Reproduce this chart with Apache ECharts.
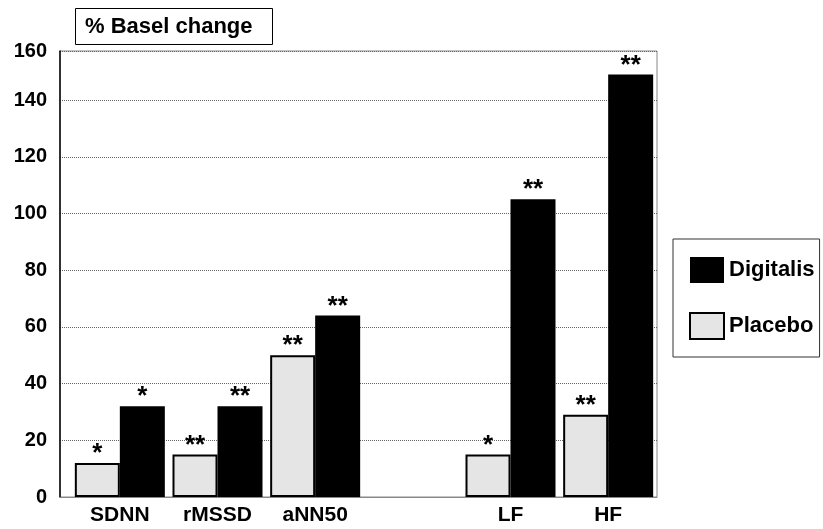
<!DOCTYPE html>
<html><head><meta charset="utf-8">
<script src="https://cdn.jsdelivr.net/npm/echarts@6/dist/echarts.min.js"></script>
<style>html,body{margin:0;padding:0;background:#fff}#c{width:823px;height:529px}</style>
</head><body><div id="c"></div>
<script>
const categories = ["SDNN", "rMSSD", "aNN50", "", "LF", "HF"];
const placebo = [12, 15, 50, null, 15, 29];
const digitalis = [32, 32, 64, null, 105, 149];
const placeboSig = ["*", "**", "**", "", "*", "**"];
const digitalisSig = ["*", "**", "**", "", "**", "**"];
const yTicks = [0, 20, 40, 60, 80, 100, 120, 140, 160];
const yMax = 157.3;
const font = "Liberation Sans, Arial, sans-serif";

const chart = echarts.init(document.getElementById('c'));
const sigLabel = (arr) => ({
  show: true, position: 'top', distance: 0, offset: [0, 4],
  fontFamily: font, fontSize: 26, fontWeight: 'bold', color: '#000',
  formatter: p => arr[p.dataIndex]
});
chart.setOption({
  animation: false,
  title: {
    text: '% Basel change', left: 75, top: 8,
    borderColor: '#000', borderWidth: 1, padding: [8, 20, 7, 10],
    textStyle: { fontFamily: font, fontSize: 22, fontWeight: 'bold', color: '#000' }
  },
  legend: {
    data: ['Digitalis', 'Placebo'], orient: 'vertical', left: 673, top: 239,
    padding: [18, 5, 17, 16], itemWidth: 34, itemHeight: 26, itemGap: 29,
    borderColor: '#333', borderWidth: 1, icon: 'rect',
    textStyle: { fontFamily: font, fontSize: 22, fontWeight: 'bold', color: '#000' }
  },
  grid: [
    { left: 60, right: 166, top: 51, bottom: 32, show: true, borderColor: '#888', borderWidth: 1, backgroundColor: 'transparent' },
    { left: 71, right: 166, top: 51, bottom: 32 }
  ],
  xAxis: [
    { gridIndex: 0, type: 'category', data: categories, axisLabel: { show: false }, axisTick: { show: false },
      axisLine: { lineStyle: { color: '#888', width: 1 } } },
    { gridIndex: 1, type: 'category', data: categories, axisTick: { show: false }, axisLine: { show: false },
      axisLabel: { fontFamily: font, fontSize: 21, fontWeight: 'bold', color: '#000', margin: 8, interval: 0 } }
  ],
  yAxis: [
    { gridIndex: 0, type: 'value', min: 0, max: yMax, interval: 20,
      axisLine: { show: true, lineStyle: { color: '#000', width: 1.5 } }, axisTick: { show: false },
      splitLine: { lineStyle: { color: '#666', type: 'dotted', width: 1 } },
      axisLabel: { fontFamily: font, fontSize: 20, fontWeight: 'bold', color: '#000', margin: 13,
        formatter: v => { const i = Math.round(v / 20); return String(yTicks[Math.min(i, yTicks.length - 1)]); } } },
    { gridIndex: 1, type: 'value', min: 0, max: yMax, show: false, splitLine: { show: false } }
  ],
  series: [
    { name: 'Placebo', type: 'bar', xAxisIndex: 1, yAxisIndex: 1, data: placebo, barWidth: 45, barGap: '0%',
      itemStyle: { color: '#e5e5e5', borderColor: '#000', borderWidth: 2 }, label: sigLabel(placeboSig) },
    { name: 'Digitalis', type: 'bar', xAxisIndex: 1, yAxisIndex: 1, data: digitalis, barWidth: 45, barGap: '0%',
      itemStyle: { color: '#000' }, label: sigLabel(digitalisSig) }
  ]
});
</script></body></html>
